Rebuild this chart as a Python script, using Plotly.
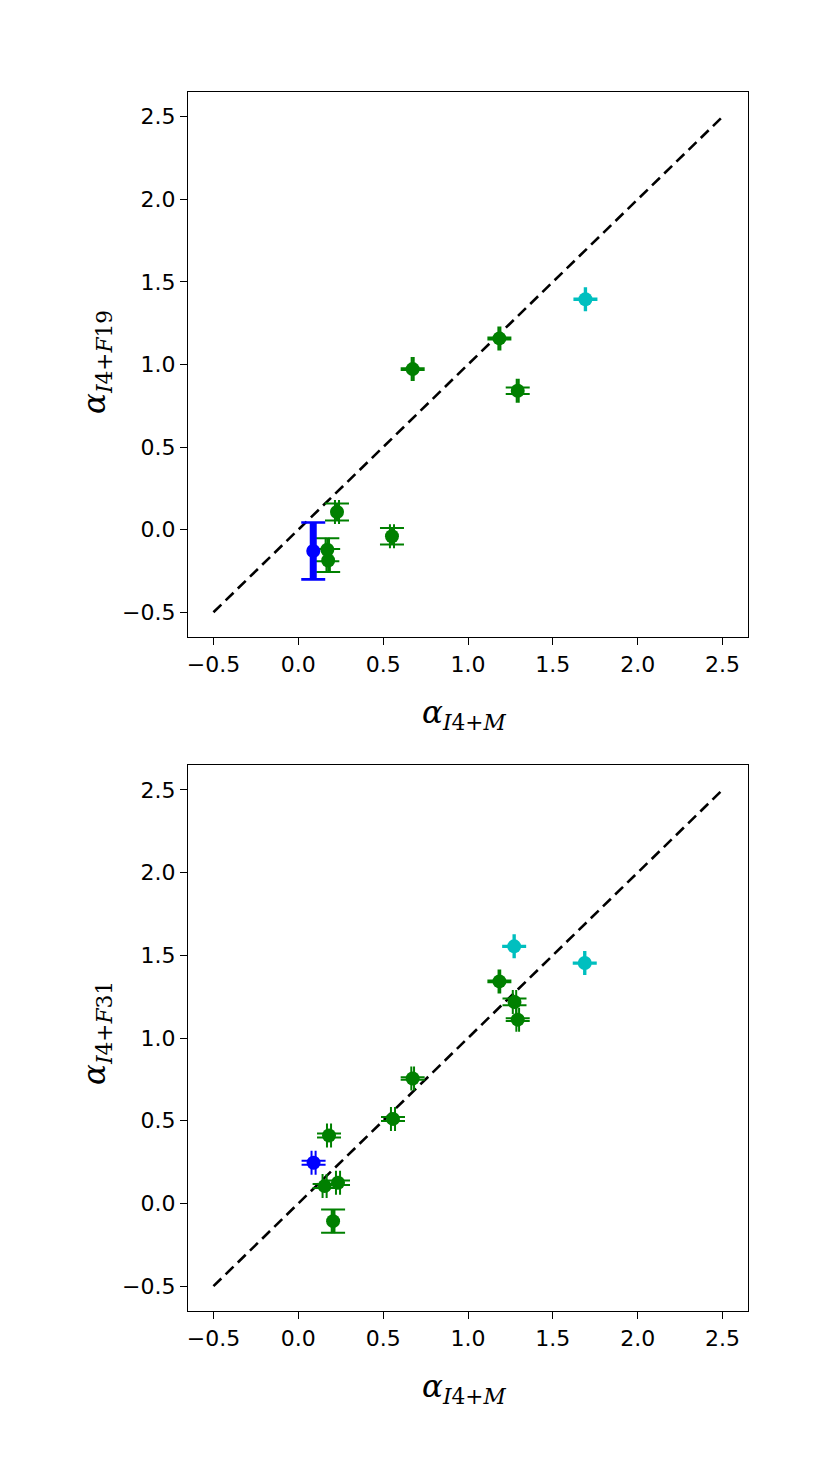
import plotly.graph_objects as go

# ---------------- data ----------------
tick_vals = [-0.5, 0.0, 0.5, 1.0, 1.5, 2.0, 2.5]
tick_text = ["\u22120.5", "0.0", "0.5", "1.0", "1.5", "2.0", "2.5"]
diag = [-0.5, 2.5]

# top panel: alpha_I4+M vs alpha_I4+F19
top_green_x = [1.185, 0.674, 1.293, 0.228, 0.552, 0.171, 0.176]
top_green_y = [1.158, 0.972, 0.841, 0.107, -0.040, -0.122, -0.187]
top_green_xerr = [0.006, 0.006, 0.006, 0.012, 0.012, 0.010, 0.010]
top_green_yerr = [0.006, 0.006, 0.020, 0.051, 0.050, 0.070, 0.070]

top_cyan_x = [1.692]
top_cyan_y = [1.395]
top_cyan_xerr = [0.004]
top_cyan_yerr = [0.004]

top_blue_x = [0.088]
top_blue_y = [-0.129]
top_blue_xerr = [0.004]
top_blue_yerr = [0.172]

# bottom panel: alpha_I4+M vs alpha_I4+F31
bot_green_x = [1.185, 1.274, 1.293, 0.674, 0.558, 0.181, 0.155, 0.234, 0.205]
bot_green_y = [1.342, 1.218, 1.111, 0.755, 0.511, 0.411, 0.105, 0.125, -0.107]
bot_green_xerr = [0.005, 0.010, 0.008, 0.008, 0.012, 0.012, 0.012, 0.012, 0.008]
bot_green_yerr = [0.005, 0.020, 0.008, 0.008, 0.012, 0.012, 0.012, 0.014, 0.070]

bot_cyan_x = [1.272, 1.688]
bot_cyan_y = [1.554, 1.453]
bot_cyan_xerr = [0.004, 0.004]
bot_cyan_yerr = [0.004, 0.004]

bot_blue_x = [0.090]
bot_blue_y = [0.246]
bot_blue_xerr = [0.012]
bot_blue_yerr = [0.012]

GREEN = "#008000"
CYAN = "#00BFBF"
BLUE = "#0000FF"

W, H = 830, 1476
OFF = 8  # page body margin offset
fig = go.Figure()


def add_points(x, y, xe, ye, color, xa, ya, thick=2.0, cap=12, show_marker=True):
    fig.add_trace(go.Scatter(
        x=x, y=y, mode="markers",
        marker=dict(color=color, size=14, opacity=1 if show_marker else 0),
        error_x=dict(type="data", array=xe, color=color, thickness=thick, width=cap),
        error_y=dict(type="data", array=ye, color=color, thickness=thick, width=cap),
        xaxis=xa, yaxis=ya, showlegend=False, hoverinfo="skip"))


def add_diag(xa, ya):
    fig.add_trace(go.Scatter(
        x=diag, y=diag, mode="lines",
        line=dict(color="black", width=2.6, dash="11px,6px"),
        xaxis=xa, yaxis=ya, showlegend=False, hoverinfo="skip"))


# top panel
add_diag("x", "y")
add_points(top_green_x, top_green_y, top_green_xerr, top_green_yerr, GREEN, "x", "y")
add_points(top_cyan_x, top_cyan_y, top_cyan_xerr, top_cyan_yerr, CYAN, "x", "y")
add_points(top_blue_x, top_blue_y, top_blue_xerr, top_blue_yerr, BLUE, "x", "y",
           thick=7, cap=0, show_marker=False)
add_points(top_blue_x, top_blue_y, top_blue_xerr, top_blue_yerr, BLUE, "x", "y", thick=2.6)

# bottom panel
add_diag("x2", "y2")
add_points(bot_green_x, bot_green_y, bot_green_xerr, bot_green_yerr, GREEN, "x2", "y2")
add_points(bot_cyan_x, bot_cyan_y, bot_cyan_xerr, bot_cyan_yerr, CYAN, "x2", "y2")
add_points(bot_blue_x, bot_blue_y, bot_blue_xerr, bot_blue_yerr, BLUE, "x2", "y2")

axis_common = dict(
    range=[-0.65, 2.65], tickvals=tick_vals, ticktext=tick_text,
    ticks="outside", ticklen=7, tickwidth=1.3, tickcolor="black",
    showline=True, linecolor="black", linewidth=1.3, mirror=True,
    showgrid=False, zeroline=False,
    tickfont=dict(family="DejaVu Sans", size=22, color="black"),
)


def px_x(p):
    return (p - OFF) / W


def px_y(p):
    return 1 - (p - OFF) / H


xdom = [px_x(188), px_x(748)]
fig.update_layout(
    width=W, height=H,
    margin=dict(l=0, r=0, t=0, b=0),
    paper_bgcolor="white", plot_bgcolor="white",
    xaxis=dict(domain=xdom, anchor="y", **axis_common),
    yaxis=dict(domain=[px_y(637), px_y(92)], anchor="x", **axis_common),
    xaxis2=dict(domain=xdom, anchor="y2", **axis_common),
    yaxis2=dict(domain=[px_y(1311), px_y(765)], anchor="x2", **axis_common),
)

label_font = dict(family="DejaVu Serif", size=31, color="black")
xlab = "<i>\u03b1</i><sub><i>I</i>4+<i>M</i></sub>"
ylab_top = "<i>\u03b1</i><sub><i>I</i>4+<i>F</i>19</sub>"
ylab_bot = "<i>\u03b1</i><sub><i>I</i>4+<i>F</i>31</sub>"

annots = [
    dict(text=xlab, x=px_x(464), y=px_y(714)),
    dict(text=xlab, x=px_x(464), y=px_y(1388)),
    dict(text=ylab_top, x=px_x(96), y=px_y(362), textangle=-90),
    dict(text=ylab_bot, x=px_x(96), y=px_y(1033), textangle=-90),
]
for a in annots:
    fig.add_annotation(xref="paper", yref="paper", xanchor="center", yanchor="middle",
                       showarrow=False, font=label_font, **a)

fig.write_html("out.html")
